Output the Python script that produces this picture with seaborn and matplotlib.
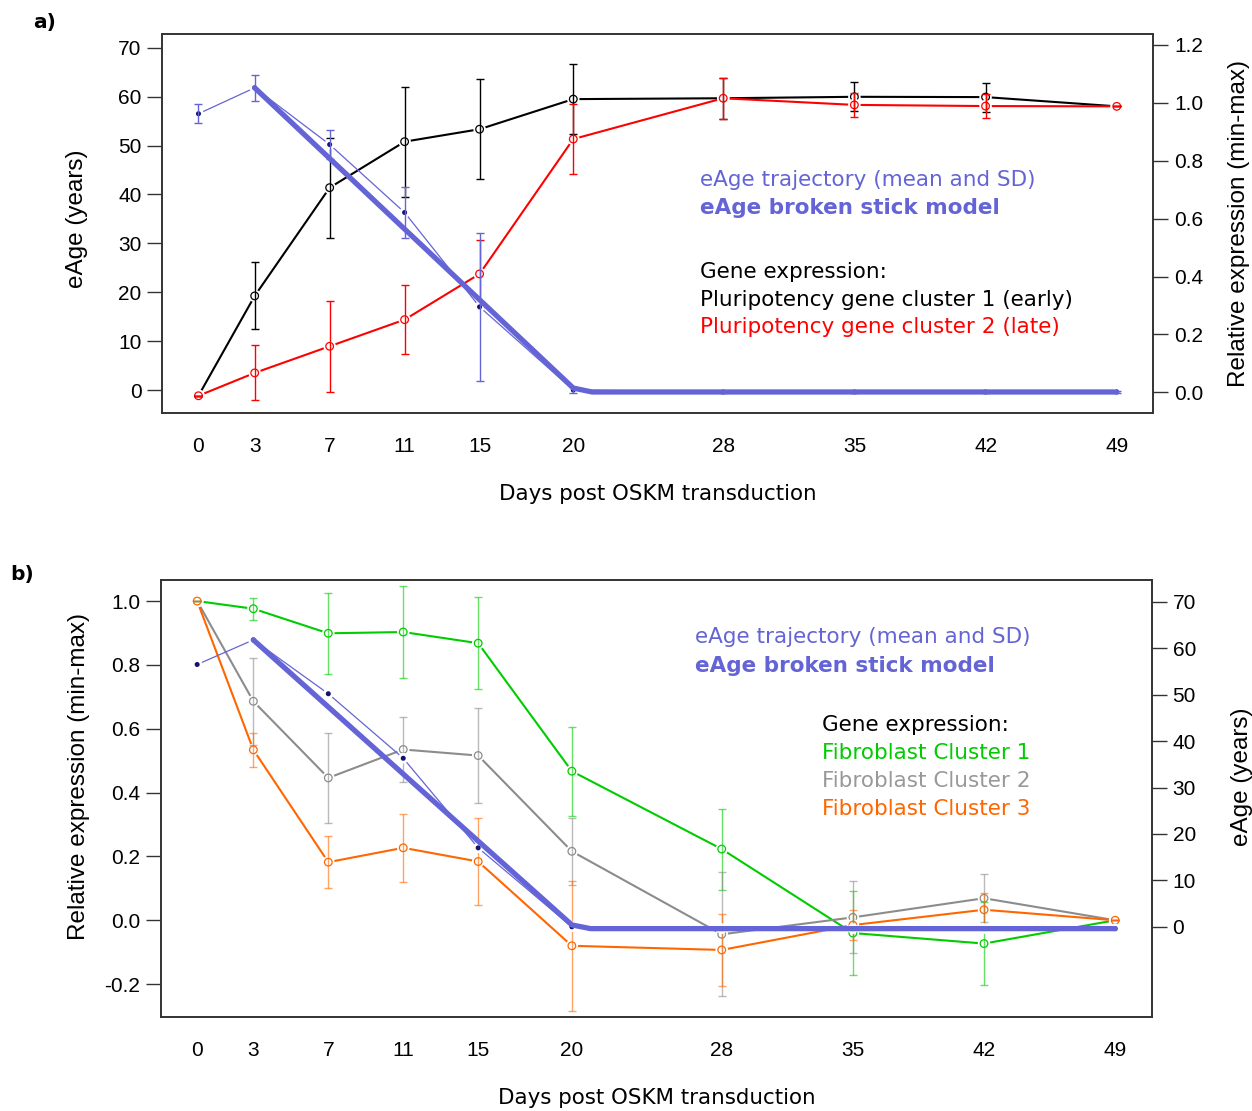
import matplotlib
matplotlib.use("Agg")
import matplotlib.pyplot as plt
import matplotlib.patheffects as pe
import seaborn as sns
import numpy as np

# ---------------- data ----------------
days = [0, 3, 7, 11, 15, 20, 28, 35, 42, 49]
day_labels = ["0", "3", "7", "11", "15", "20", "28", "35", "42", "49"]

eage_mean = [56.5, 61.8, 50.2, 36.3, 17.0, 0.0, -0.4, -0.4, -0.4, -0.4]
eage_sd = [2.0, 2.7, 2.9, 5.3, 15.2, 0.7, 0.2, 0.2, 0.2, 0.2]

stick_days = [3, 20, 21, 49]
stick_vals = [61.8, 0.4, -0.4, -0.4]

pluri1 = [-0.012, 0.333, 0.707, 0.866, 0.909, 1.013, 1.016, 1.021, 1.020, 0.988]
pluri1_sd = [0.0, 0.116, 0.173, 0.19, 0.173, 0.122, 0.07, 0.05, 0.05, 0.0]
pluri2 = [-0.012, 0.067, 0.159, 0.251, 0.409, 0.875, 1.016, 0.993, 0.989, 0.988]
pluri2_sd = [0.0, 0.095, 0.158, 0.119, 0.117, 0.121, 0.07, 0.042, 0.04, 0.0]

fib1 = [1.0, 0.976, 0.899, 0.903, 0.868, 0.467, 0.223, -0.040, -0.073, 0.0]
fib1_sd = [0.0, 0.035, 0.127, 0.145, 0.145, 0.139, 0.127, 0.133, 0.13, 0.0]
fib2 = [1.0, 0.686, 0.446, 0.535, 0.516, 0.216, -0.044, 0.009, 0.069, 0.0]
fib2_sd = [0.0, 0.136, 0.142, 0.103, 0.148, 0.105, 0.194, 0.113, 0.076, 0.0]
fib3 = [1.0, 0.534, 0.182, 0.227, 0.184, -0.080, -0.093, -0.015, 0.033, 0.0]
fib3_sd = [0.0, 0.053, 0.081, 0.107, 0.137, 0.204, 0.112, 0.047, 0.053, 0.0]

# ---------------- style ----------------
sns.set_theme(style="white")
plt.rcParams["font.family"] = ["Liberation Sans", "DejaVu Sans"]
plt.rcParams["text.color"] = "black"
plt.rcParams["axes.labelcolor"] = "black"

BLUE = "#6464d6"
DOT = "#14146e"
BLACK = "#000000"
RED = "#ff0000"
GREEN = "#00cc00"
GRAY = "#8c8c8c"
ORANGE = "#ff6600"
SPINE = "#333333"
W, H = 1252, 1111

fig = plt.figure(figsize=(12.52, 11.11), dpi=100)
fig.patch.set_facecolor("white")


def px_axes(l, t, r, b):
    return fig.add_axes([l / W, 1 - b / H, (r - l) / W, (b - t) / H])


def style_axis(ax):
    for s in ax.spines.values():
        s.set_color(SPINE)
        s.set_linewidth(1.2)
    ax.tick_params(axis="both", direction="out", length=11, width=1.0,
                   color=SPINE, labelsize=15, pad=4, labelcolor="black")
    ax.grid(False)


def series(ax, y, sd, color, lw=1.5, ms=5.5, ebalpha=1.0, z=3):
    sns.lineplot(x=days, y=y, ax=ax, color=color, lw=lw, sort=False,
                 errorbar=None, zorder=z)
    ax.plot(days, y, linestyle="none", marker="o", ms=ms, mfc="white",
            mec=color, mew=0.9, zorder=z + 0.1,
            path_effects=[pe.withStroke(linewidth=3.5, foreground="white")])
    ax.errorbar(days, y, yerr=sd, fmt="none", ecolor=color, elinewidth=1.0,
                capsize=3, capthick=1.0, alpha=ebalpha, zorder=z + 0.2)


def eage_series(ax, with_sd):
    sns.lineplot(x=days, y=eage_mean, ax=ax, color=BLUE, lw=0.9, sort=False,
                 errorbar=None, zorder=5)
    ax.plot(days, eage_mean, linestyle="none", marker="o", ms=2.6, mfc=DOT,
            mec=DOT, zorder=5.2,
            path_effects=[pe.withStroke(linewidth=5, foreground="white")])
    if with_sd:
        ax.errorbar(days, eage_mean, yerr=eage_sd, fmt="none", ecolor=BLUE,
                    elinewidth=1.0, capsize=3, capthick=1.0, zorder=5.3)
    sns.lineplot(x=stick_days, y=stick_vals, ax=ax, color=BLUE, lw=3.8,
                 sort=False, errorbar=None, zorder=6,
                 solid_capstyle="round", solid_joinstyle="round")


XLIM = (-1.93, 50.95)
LABEL_FS = 17.5

# ================= panel a =================
axA = px_axes(162.3, 34, 1153.3, 413.3)          # eAge (left)
axA2 = axA.twinx()                                # expression (right)
axA.set_zorder(axA2.get_zorder() + 1)
axA.patch.set_visible(False)
axA2.patch.set_facecolor("white")

series(axA2, pluri1, pluri1_sd, BLACK)
series(axA2, pluri2, pluri2_sd, RED)
eage_series(axA, True)

axA.set_xlim(*XLIM)
axA.set_ylim(-4.76, 72.8)
axA2.set_ylim(-0.0726, 1.238)
axA.set_yticks(range(0, 71, 10))
axA2.set_yticks([0.0, 0.2, 0.4, 0.6, 0.8, 1.0, 1.2])
axA2.set_yticklabels(["0.0", "0.2", "0.4", "0.6", "0.8", "1.0", "1.2"])
axA.set_xticks(days)
axA.set_xticklabels(day_labels)
for a in (axA, axA2):
    style_axis(a)
    a.set_xlabel("")
axA.tick_params(axis="x", length=13, pad=4)
axA.set_ylabel("eAge (years)", fontsize=LABEL_FS, labelpad=22, color="black")
axA.yaxis.label.set_y(0.513)
axA2.set_ylabel("Relative expression (min-max)", fontsize=LABEL_FS,
                labelpad=18, color="black")
axA.set_xlabel("Days post OSKM transduction", fontsize=15.4, color="black",
               family=["DejaVu Sans"], labelpad=20.5)

# ================= panel b =================
axB = px_axes(161, 580, 1151.7, 1017.3)           # expression (left)
axB2 = axB.twinx()                                 # eAge (right)

series(axB, fib1, fib1_sd, GREEN, ebalpha=0.6)
series(axB, fib2, fib2_sd, GRAY, ebalpha=0.6)
series(axB, fib3, fib3_sd, ORANGE, ebalpha=0.6)
eage_series(axB2, False)

axB.set_xlim(*XLIM)
axB.set_ylim(-0.304, 1.066)
axB2.set_ylim(-19.5, 74.7)
axB.set_yticks([-0.2, 0.0, 0.2, 0.4, 0.6, 0.8, 1.0])
axB.set_yticklabels(["-0.2", "0.0", "0.2", "0.4", "0.6", "0.8", "1.0"])
axB2.set_yticks(range(0, 71, 10))
axB.set_xticks(days)
axB.set_xticklabels(day_labels)
for a in (axB, axB2):
    style_axis(a)
    a.set_xlabel("")
axB.tick_params(axis="x", length=13, pad=4)
axB.set_ylabel("Relative expression (min-max)", fontsize=LABEL_FS,
               labelpad=10.5, color="black")
axB.yaxis.label.set_y(0.55)
axB2.set_ylabel("eAge (years)", fontsize=LABEL_FS, labelpad=25, color="black")
axB2.yaxis.label.set_y(0.55)
axB.set_xlabel("Days post OSKM transduction", fontsize=15.4, color="black",
               family=["DejaVu Sans"], labelpad=20.5)


# ================= annotations =================
def ftext(x, y, s, color, bold=False, size=15.5):
    fig.text(x / W, 1 - y / H, s, color=color, fontsize=size,
             fontweight="bold" if bold else "normal",
             family=["DejaVu Sans"], ha="left", va="baseline")


ftext(33, 28, "a)", "black", bold=True, size=14.5)
ftext(10, 580, "b)", "black", bold=True, size=14.5)

ftext(700, 186, "eAge trajectory (mean and SD)", BLUE)
ftext(700, 214, "eAge broken stick model", BLUE, bold=True)
ftext(700, 278, "Gene expression:", "black")
ftext(700, 306, "Pluripotency gene cluster 1 (early)", "black")
ftext(700, 333, "Pluripotency gene cluster 2 (late)", RED)

ftext(695, 643, "eAge trajectory (mean and SD)", BLUE)
ftext(695, 672, "eAge broken stick model", BLUE, bold=True)
ftext(822, 731, "Gene expression:", "black")
ftext(822, 759, "Fibroblast Cluster 1", GREEN)
ftext(822, 787, "Fibroblast Cluster 2", "#999999")
ftext(822, 815, "Fibroblast Cluster 3", ORANGE)

fig.savefig("out.png", dpi=100, facecolor="white")
